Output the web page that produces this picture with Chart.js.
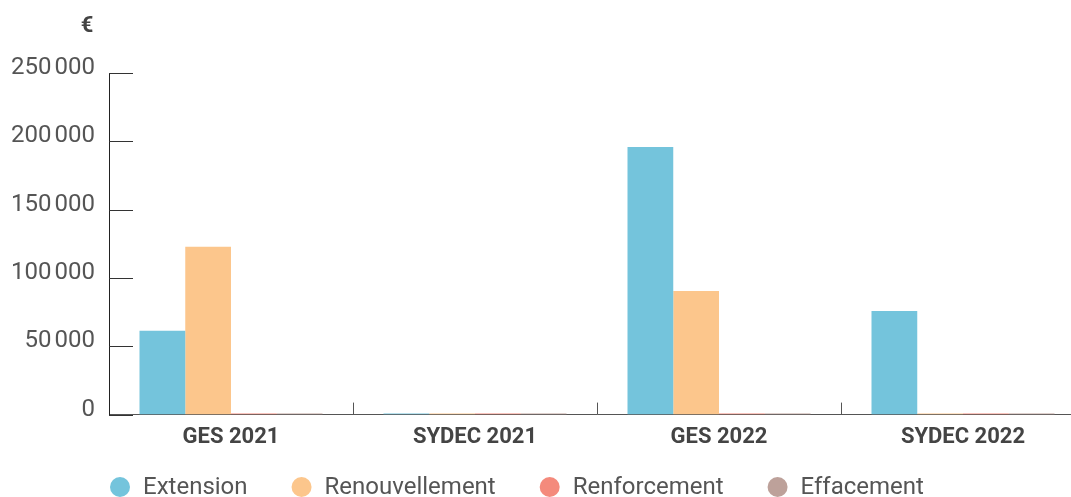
<!DOCTYPE html>
<html lang="fr">
<head>
<meta charset="utf-8">
<title>Travaux par type</title>
<script src="https://cdn.jsdelivr.net/npm/chart.js@4.4.1/dist/chart.umd.min.js"></script>
<style>
  html, body { margin: 0; padding: 0; background: #fff; overflow: hidden; }
  #wrap { position: relative; width: 1085px; height: 497px; }
</style>
</head>
<body>
<div id="wrap"><canvas id="chart"></canvas></div>
<script>
// Montants en euros par opérateur et par année
const categories = ['GES 2021', 'SYDEC 2021', 'GES 2022', 'SYDEC 2022'];
const extension = [61400, 0, 195900, 75800];
const renouvellement = [122900, 0, 90500, 0];
const renforcement = [0, 0, 0, 0];
const effacement = [0, 0, 0, 0];
const seriesNames = ['Extension', 'Renouvellement', 'Renforcement', 'Effacement'];
const seriesColors = ['#74c4dc', '#fcc68c', '#f48a7c', '#bda19a'];
const yTickStep = 50000;
const yMax = 250000;
const unitLabel = '€';

const FONT = 'Roboto, "Noto Sans", sans-serif';

function formatEuro(v) {
  return String(v).replace(/\B(?=(\d{3})+(?!\d))/g, '\u202F');
}

// Graduations intérieures, unité au-dessus de l'axe et légende en bas
const decorations = {
  id: 'decorations',
  afterDraw(chart) {
    const { ctx, scales: { x, y } } = chart;
    ctx.save();
    ctx.strokeStyle = '#333';
    ctx.lineWidth = 1;
    y.ticks.forEach(t => {
      const py = Math.round(y.getPixelForValue(t.value)) + 0.5;
      ctx.beginPath();
      ctx.moveTo(y.right, py);
      ctx.lineTo(y.right + 24, py);
      ctx.stroke();
    });
    ctx.strokeStyle = '#555';
    for (let i = 1; i < categories.length; i++) {
      const px = Math.round((x.getPixelForTick(i - 1) + x.getPixelForTick(i)) / 2) + 0.5;
      ctx.beginPath();
      ctx.moveTo(px, x.top);
      ctx.lineTo(px, x.top - 12);
      ctx.stroke();
    }

    ctx.fillStyle = '#444';
    ctx.font = 'bold 22px ' + FONT;
    ctx.textAlign = 'center';
    ctx.textBaseline = 'middle';
    ctx.fillText(unitLabel, y.right - 22, 26);

    // légende
    ctx.font = '24px ' + FONT;
    ctx.textAlign = 'left';
    let lx = 110;
    const ly = 487;
    chart.data.datasets.forEach(ds => {
      ctx.fillStyle = ds.backgroundColor;
      ctx.beginPath();
      ctx.arc(lx + 10, ly, 10, 0, Math.PI * 2);
      ctx.fill();
      ctx.fillStyle = '#555';
      ctx.fillText(ds.label, lx + 33, ly + 1);
      lx += 33 + ctx.measureText(ds.label).width + 44;
    });
    ctx.restore();
  }
};

const datasets = [extension, renouvellement, renforcement, effacement].map((d, i) => ({
  label: seriesNames[i],
  data: d,
  backgroundColor: seriesColors[i],
  borderWidth: 0,
  minBarLength: 1,
  categoryPercentage: 0.75,
  barPercentage: 1.0
}));

new Chart(document.getElementById('chart'), {
  type: 'bar',
  data: { labels: categories, datasets },
  plugins: [decorations],
  options: {
    responsive: true,
    maintainAspectRatio: false,
    animation: false,
    layout: { padding: { top: 73, left: 0, right: 0, bottom: 36 } },
    scales: {
      x: {
        grid: { display: false, drawTicks: false },
        border: { display: true, color: '#555', width: 1 },
        ticks: {
          color: '#444',
          font: { family: FONT, size: 22, weight: 'bold' },
          padding: 10
        }
      },
      y: {
        min: 0,
        max: yMax,
        grid: { display: false, drawTicks: false },
        border: { display: true, color: '#222', width: 1 },
        afterFit(scale) { scale.width = 109; },
        ticks: {
          stepSize: yTickStep,
          color: '#555',
          font: { family: FONT, size: 24 },
          padding: 14,
          labelOffset: -5,
          callback: v => formatEuro(v)
        }
      }
    },
    plugins: {
      tooltip: { enabled: false },
      legend: { display: false }
    }
  }
});
</script>
</body>
</html>
